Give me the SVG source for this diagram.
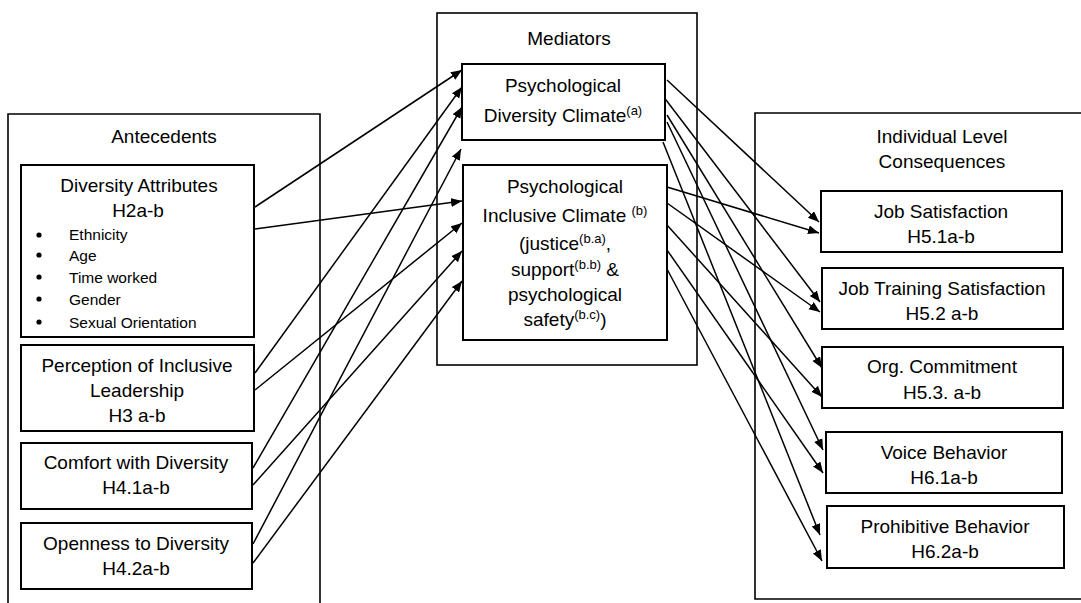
<svg xmlns="http://www.w3.org/2000/svg" width="1081" height="603" viewBox="0 0 1081 603">
<defs>
<style>
.frame{fill:none;stroke:#000;stroke-width:1.6}
.box{fill:#fff;stroke:#000;stroke-width:2}
.t{font-family:"Liberation Sans",Arial,sans-serif;font-size:19px;fill:#000;text-anchor:middle}
.s{font-family:"Liberation Sans",Arial,sans-serif;font-size:15.5px;fill:#000}
.sup{font-size:13px}
.c{fill:none;stroke:#000;stroke-width:1.5;marker-end:url(#ah)}
</style>
<marker id="ah" markerUnits="userSpaceOnUse" markerWidth="12" markerHeight="10" refX="11" refY="4.5" orient="auto">
<path d="M0,0 L11,4.5 L0,9 z" fill="#000"/>
</marker>
</defs>
<rect width="1081" height="603" fill="#fff"/>

<g id="antecedents">
<path class="frame" d="M8,610 V114 H320 V610"/>
<text class="t" x="164" y="143">Antecedents</text>
</g>
<g id="mediators">
<rect class="frame" x="437" y="13" width="260" height="352"/>
<text class="t" x="569" y="45">Mediators</text>
</g>
<g id="consequences">
<path class="frame" d="M1090,113 H755 V599 H1090"/>
<text class="t" x="942" y="143">Individual Level</text>
<text class="t" x="942" y="168">Consequences</text>
</g>

<g id="connectors">
<line class="c" x1="255" y1="207" x2="462" y2="70"/>
<line class="c" x1="255" y1="229" x2="462" y2="201"/>
<line class="c" x1="255" y1="373" x2="462" y2="87"/>
<line class="c" x1="255" y1="390" x2="462" y2="223"/>
<line class="c" x1="253" y1="468" x2="462" y2="107"/>
<line class="c" x1="253" y1="485" x2="462" y2="251"/>
<line class="c" x1="253" y1="544" x2="461" y2="149"/>
<line class="c" x1="253" y1="563" x2="462" y2="281"/>

<line class="c" x1="667" y1="80" x2="819" y2="222"/>
<line class="c" x1="663" y1="96" x2="820" y2="302"/>
<line class="c" x1="667" y1="115" x2="822" y2="368"/>
<line class="c" x1="667" y1="122" x2="823" y2="450"/>
<line class="c" x1="663" y1="142" x2="820" y2="535"/>
<line class="c" x1="667" y1="187" x2="819" y2="233"/>
<line class="c" x1="667" y1="203" x2="820" y2="312"/>
<line class="c" x1="667" y1="225" x2="822" y2="397"/>
<line class="c" x1="667" y1="250" x2="823" y2="473"/>
<line class="c" x1="667" y1="269" x2="822" y2="561"/>
</g>

<g id="diversity-attributes">
<rect class="box" x="21" y="165" width="233" height="172"/>
<text class="t" x="139" y="192">Diversity Attributes</text>
<text class="t" x="138" y="217">H2a-b</text>
<circle cx="39" cy="235" r="2.6"/>
<circle cx="39" cy="255" r="2.6"/>
<circle cx="39" cy="277" r="2.6"/>
<circle cx="39" cy="299" r="2.6"/>
<circle cx="39" cy="322" r="2.6"/>
<text class="s" x="69" y="240">Ethnicity</text>
<text class="s" x="69" y="261">Age</text>
<text class="s" x="69" y="283">Time worked</text>
<text class="s" x="69" y="305">Gender</text>
<text class="s" x="69" y="328">Sexual Orientation</text>
</g>
<g id="inclusive-leadership">
<rect class="box" x="21" y="345" width="233" height="86"/>
<text class="t" x="137" y="372">Perception of Inclusive</text>
<text class="t" x="137" y="397">Leadership</text>
<text class="t" x="137" y="422">H3 a-b</text>
</g>
<g id="comfort">
<rect class="box" x="21" y="443" width="231" height="66"/>
<text class="t" x="136" y="469">Comfort with Diversity</text>
<text class="t" x="136" y="494">H4.1a-b</text>
</g>
<g id="openness">
<rect class="box" x="21" y="523" width="231" height="66"/>
<text class="t" x="136" y="550">Openness to Diversity</text>
<text class="t" x="136" y="575">H4.2a-b</text>
</g>

<g id="pdc">
<rect class="box" x="462" y="64" width="203" height="76"/>
<text class="t" x="563" y="92">Psychological</text>
<text class="t" x="563" y="122">Diversity Climate<tspan class="sup" dy="-7">(a)</tspan></text>
</g>
<g id="pic">
<rect class="box" x="463" y="165" width="204" height="175"/>
<text class="t" x="565" y="193">Psychological</text>
<text class="t" x="565" y="222">Inclusive Climate <tspan class="sup" dy="-7">(b)</tspan></text>
<text class="t" x="565" y="250">(justice<tspan class="sup" dy="-7">(b.a)</tspan><tspan dy="7">,</tspan></text>
<text class="t" x="565" y="276">support<tspan class="sup" dy="-7">(b.b)</tspan><tspan dy="7"> &amp;</tspan></text>
<text class="t" x="565" y="301">psychological</text>
<text class="t" x="565" y="326">safety<tspan class="sup" dy="-7">(b.c)</tspan><tspan dy="7">)</tspan></text>
</g>

<g id="job-satisfaction">
<rect class="box" x="821" y="191" width="241" height="61"/>
<text class="t" x="941" y="218">Job Satisfaction</text>
<text class="t" x="941" y="243">H5.1a-b</text>
</g>
<g id="job-training">
<rect class="box" x="822" y="268" width="241" height="61"/>
<text class="t" x="942" y="295">Job Training Satisfaction</text>
<text class="t" x="942" y="320">H5.2 a-b</text>
</g>
<g id="org-commitment">
<rect class="box" x="822" y="347" width="241" height="61"/>
<text class="t" x="942" y="373">Org. Commitment</text>
<text class="t" x="942" y="399">H5.3. a-b</text>
</g>
<g id="voice">
<rect class="box" x="826" y="432" width="236" height="61"/>
<text class="t" x="944" y="459">Voice Behavior</text>
<text class="t" x="944" y="484">H6.1a-b</text>
</g>
<g id="prohibitive">
<rect class="box" x="827" y="506" width="237" height="62"/>
<text class="t" x="945" y="533">Prohibitive Behavior</text>
<text class="t" x="945" y="558">H6.2a-b</text>
</g>
</svg>
